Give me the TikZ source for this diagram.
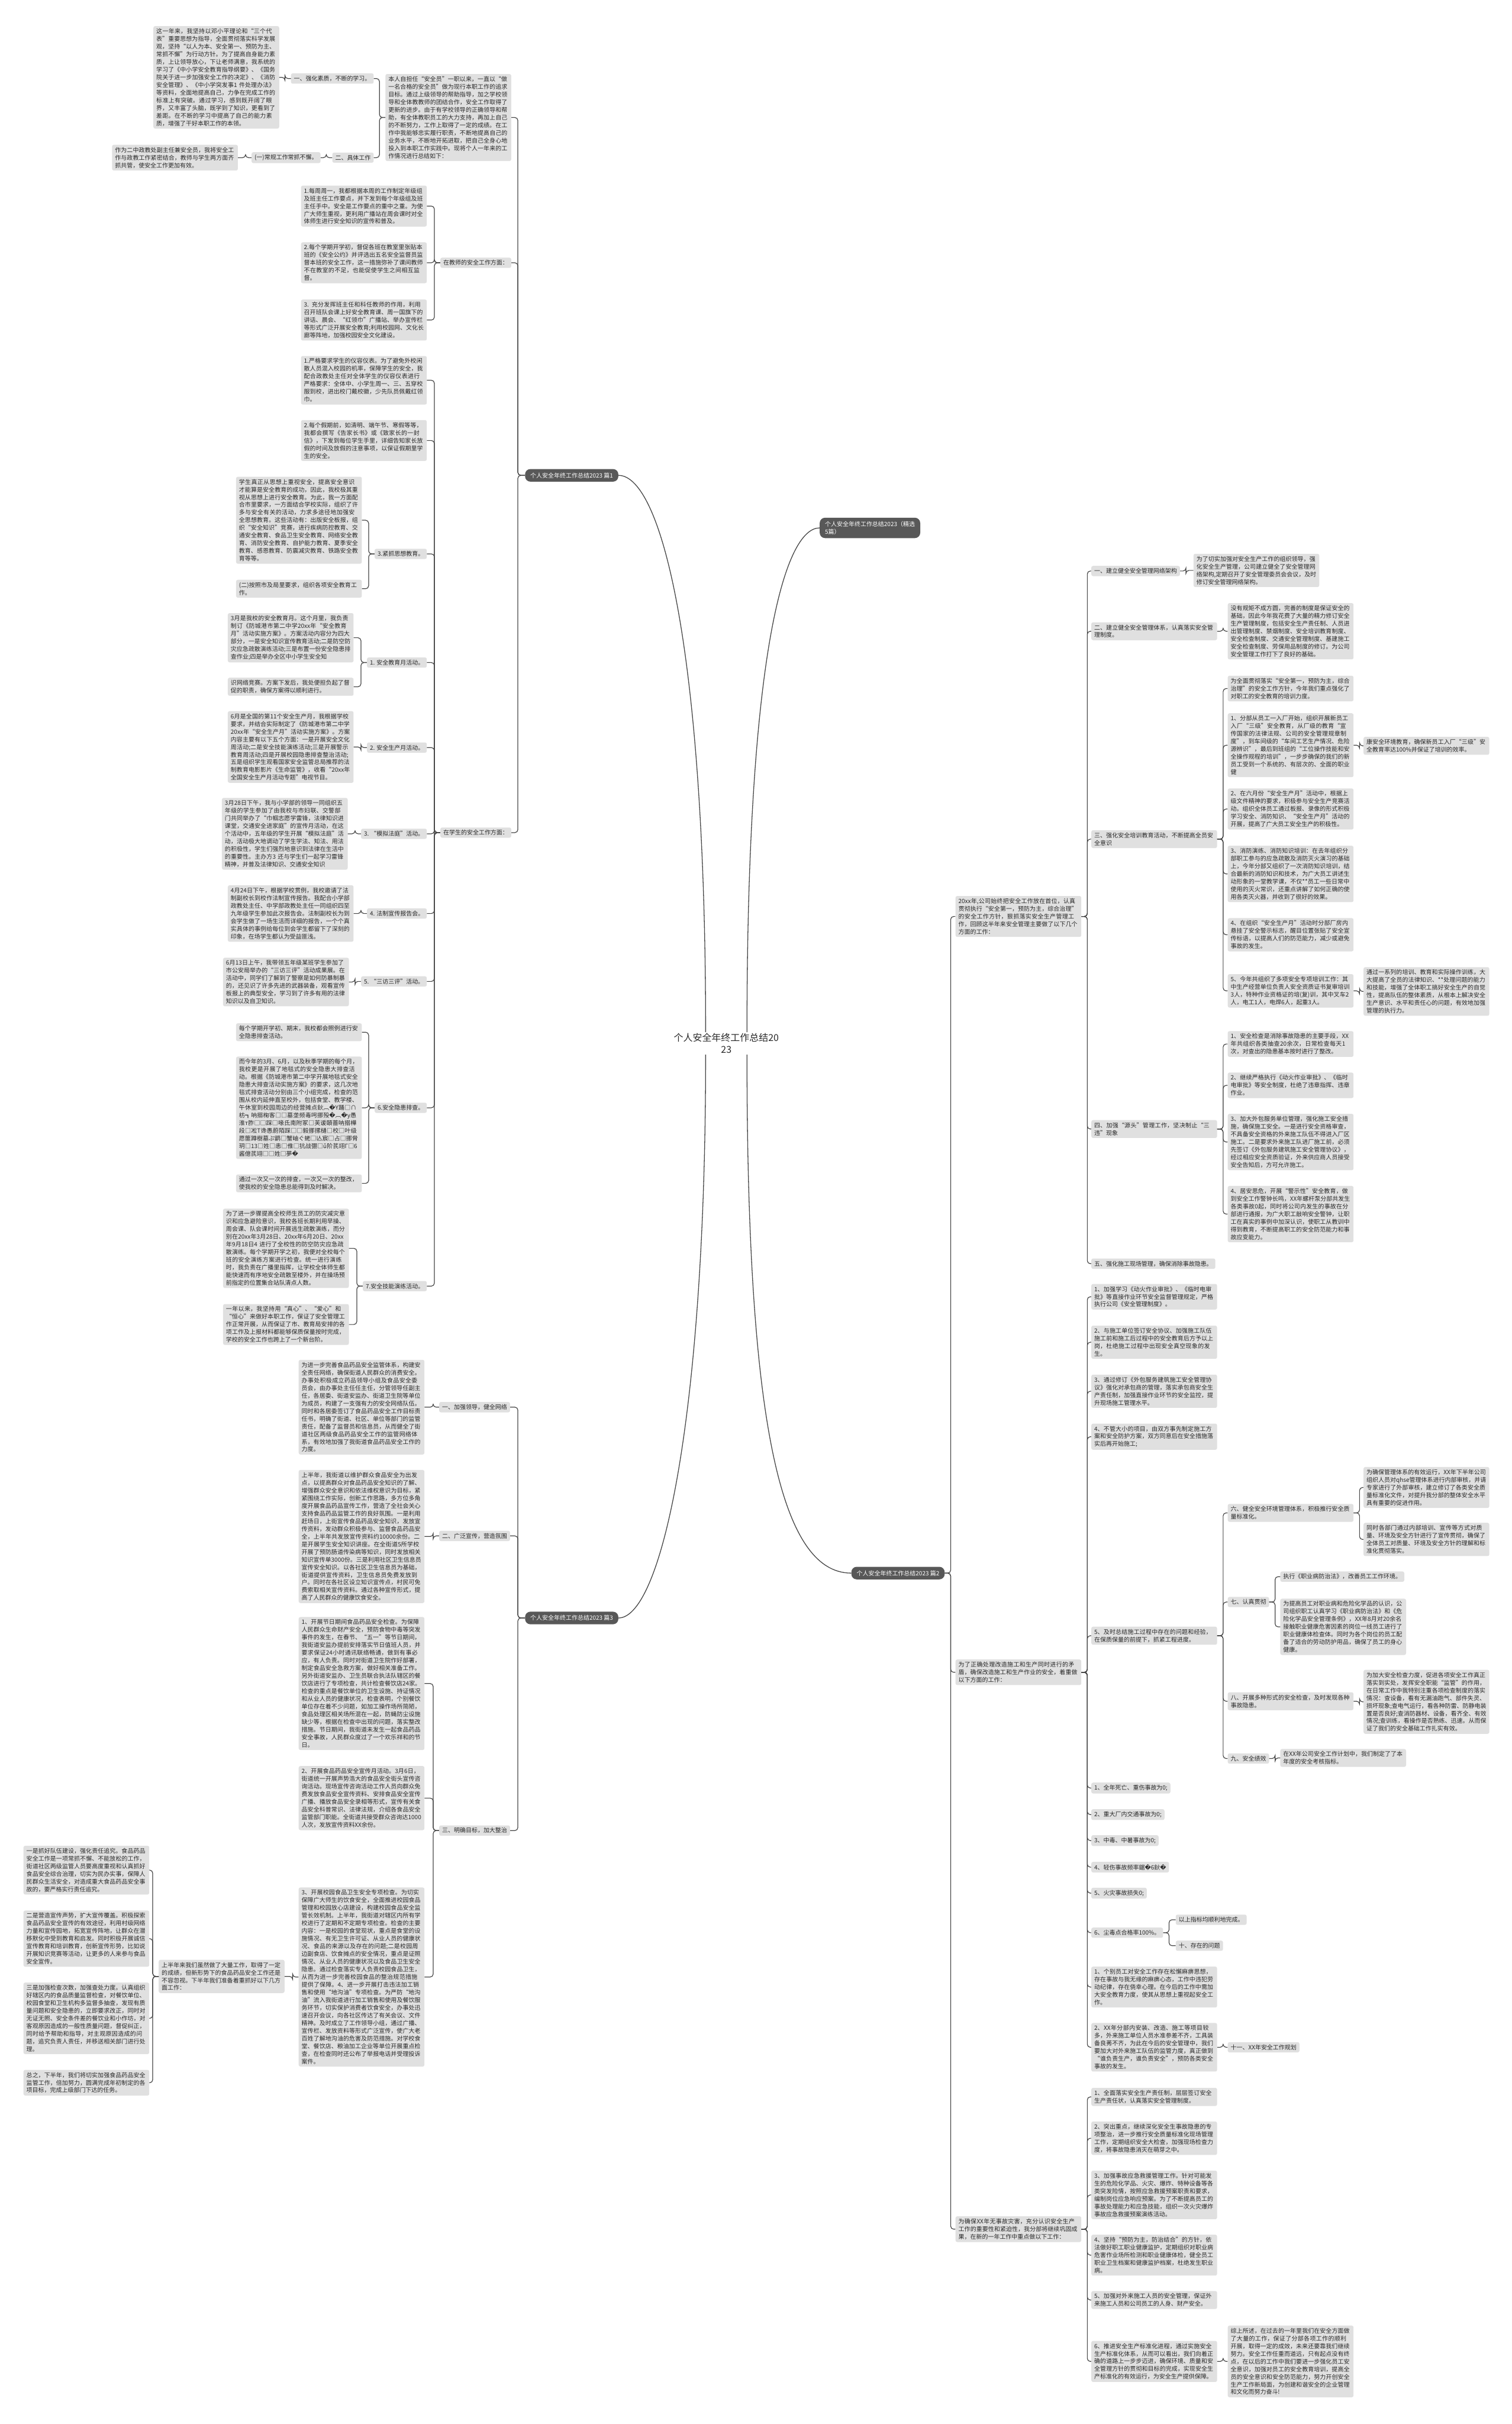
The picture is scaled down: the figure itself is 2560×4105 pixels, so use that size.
\documentclass[tikz,border=0pt]{standalone}
\usepackage{fontspec}
\setmainfont{Noto Sans CJK SC}
\newfontfamily\dejavu{DejaVu Sans}
\XeTeXlinebreaklocale "zh"
\XeTeXlinebreakskip = 0pt plus 1pt
\definecolor{boxgray}{RGB}{224,224,224}
\definecolor{linegray}{RGB}{70,70,70}
\definecolor{txtgray}{RGB}{40,40,40}
\definecolor{darknode}{RGB}{88,88,88}
\newcommand\rep{{\dejavu\symbol{"FFFD}}}
\newcommand\conL[3][10]{\draw[conn] (#2.west) -- ++(-#1,0) |- (#3.east);}
\newcommand\conR[3][10]{\draw[conn] (#2.east) -- ++(#1,0) |- (#3.west);}
\begin{document}
\begin{tikzpicture}[x=1pt,y=-1pt,
 tbox/.style={fill=boxgray, rounded corners=3pt, inner xsep=5pt, inner ysep=4pt, text=txtgray, font=\fontsize{10}{13}\selectfont, align=left},
 wbox/.style={tbox, text width=203pt},
 branch/.style={fill=darknode, rounded corners=9pt, inner xsep=9pt, inner ysep=6pt, text=white, font=\fontsize{10}{13}\selectfont, align=left},
 rootnode/.style={text=txtgray, font=\fontsize{16}{20}\selectfont, align=center},
 conn/.style={draw=linegray, line width=1.2pt, rounded corners=5pt},
 mainconn/.style={draw=linegray, line width=1.3pt}
]
\useasboundingbox[fill=white] (0,0) rectangle (2560,4105);

% ---------- root and branches ----------
\node[rootnode] (root) at (1230,1767) {个人安全年终工作总结20\\23};
\node[branch, anchor=west] (b1) at (889,805) {个人安全年终工作总结2023 篇1};
\node[branch, anchor=west] (b4) at (889,2740) {个人安全年终工作总结2023 篇3};
\node[branch, anchor=west] (b2) at (1388,894) {个人安全年终工作总结2023（精选\\5篇）};
\node[branch, anchor=east] (b3) at (1600,2664) {个人安全年终工作总结2023 篇2};

\draw[mainconn] (1195,1748) .. controls (1195,1100) and (1120,805) .. (b1.east);
\draw[mainconn] (1195,1786) .. controls (1195,2400) and (1120,2740) .. (b4.east);
\draw[mainconn] (1265,1748) .. controls (1265,1100) and (1330,894) .. (b2.west);
\draw[mainconn] (1265,1786) .. controls (1265,2400) and (1320,2664) .. (b3.west);

% ---------- 篇1 ----------
\node[wbox, anchor=east] (intro) at (866,199) {本人自担任“安全员”一职以来，一直以“做一名合格的安全员”做为现行本职工作的追求目标。通过上级领导的帮助指导，加之学校领导和全体教教师的团结合作，安全工作取得了更新的进步。由于有学校领导的正确领导和帮助，有全体教职员工的大力支持，再加上自己的不断努力，工作上取得了一定的成绩。在工作中我能够忠实履行职责，不断地提高自己的业务水平，不断地开拓进取，把自己全身心地投入到本职工作实践中。现将个人一年来的工作情况进行总结如下：};
\node[tbox, anchor=east] (q1) at (633,133) {一、强化素质，不断的学习。};
\node[wbox, anchor=east] (q1a) at (473,131) {这一年来，我坚持以邓小平理论和“三个代表”重要思想为指导，全面贯彻落实科学发展观，坚持“以人为本、安全第一、预防为主、常抓不懈”为行动方针。为了提高自身能力素质，上让领导放心，下让老师满意，我系统的学习了《中小学安全教育指导纲要》、《国务院关于进一步加强安全工作的决定》、《消防安全管理》、《中小学突发事1 件处理办法》等资料，全面地提高自己，力争在完成工作的标准上有突破。通过学习，感到既开阔了眼界，又丰富了头脑，既学到了知识，更看到了差距。在不断的学习中提高了自己的能力素质，增强了干好本职工作的本领。};
\node[tbox, anchor=east] (q2) at (633,267) {二、具体工作};
\node[tbox, anchor=east] (q2a) at (543,267) {(一)常规工作常抓不懈。};
\node[wbox, anchor=east] (q2b) at (403,267) {作为二中政教处副主任兼安全员，我将安全工作与政教工作紧密结合，教师与学生两方面齐抓共管，使安全工作更加有效。};

\node[tbox, anchor=east] (tch) at (866,445) {在教师的安全工作方面：};
\node[wbox, anchor=east] (tch1) at (723,349) {1.每周周一，我都根据本周的工作制定年级组及班主任工作要点，并下发到每个年级组及班主任手中。安全是工作要点的重中之重。为使广大师生重视，更利用广播站在周会课时对全体师生进行安全知识的宣传和普及。};
\node[wbox, anchor=east] (tch2) at (723,445) {2.每个学期开学初，督促各班在教室里张贴本班的《安全公约》并评选出五名安全监督员监督本班的安全工作，这一措施弥补了课间教师不在教室的不足，也能促使学生之间相互监督。};
\node[wbox, anchor=east] (tch3) at (723,542) {3. 充分发挥班主任和科任教师的作用，利用召开班队会课上好安全教育课、周一国旗下的讲话、晨会、“红领巾”广播站、举办宣传栏等形式广泛开展安全教育;利用校园网、文化长廊等阵地，加强校园安全文化建设。};

\node[tbox, anchor=east] (stu) at (866,1410) {在学生的安全工作方面：};
\node[wbox, anchor=east] (s1) at (723,644) {1.严格要求学生的仪容仪表。为了避免外校闲散人员混入校园的机率，保障学生的安全，我配合政教处主任对全体学生的仪容仪表进行严格要求：全体中、小学生周一、三、五穿校服到校，进出校门戴校徽，少先队员佩戴红领巾。};
\node[wbox, anchor=east] (s2) at (723,746) {2.每个假期前，如清明、端午节、寒假等等，我都会撰写《告家长书》或《致家长的一封信》，下发到每位学生手里，详细告知家长放假的时间及放假的注意事项，以保证假期里学生的安全。};
\node[tbox, anchor=east] (s3) at (723,938) {3.紧抓思想教育。};
\node[wbox, anchor=east] (s3a) at (613,881) {学生真正从思想上重视安全，提高安全意识才能算是安全教育的成功，因此，我校极其重视从思想上进行安全教育。为此，我一方面配合市里要求，一方面结合学校实际，组织了许多与安全有关的活动，力求多途径地加强安全思想教育。这些活动有：出版安全板报，组织“安全知识”竞赛，进行疾病防控教育、交通安全教育、食品卫生安全教育、网络安全教育、消防安全教育、自护能力教育、夏季安全教育、感恩教育、防震减灾教育、铁路安全教育等等。};
\node[wbox, anchor=east] (s3b) at (613,997) {(二)按照市及局里要求，组织各项安全教育工作。};
\node[tbox, anchor=east] (s4) at (723,1122) {1. 安全教育月活动。};
\node[wbox, anchor=east] (s4a) at (599,1080) {3月是我校的安全教育月。这个月里，我负责制订《防城港市第二中学20xx年“安全教育月”活动实施方案》。方案活动内容分为四大部分，一是安全知识宣传教育活动;二是防空防灾应急疏散演练活动;三是布置一份安全隐患排查作业;四是举办全区中小学生安全知};
\node[wbox, anchor=east] (s4b) at (599,1163) {识网络竞赛。方案下发后，我处便担负起了督促的职责，确保方案得以顺利进行。};
\node[tbox, anchor=east] (s5) at (723,1266) {2. 安全生产月活动。};
\node[wbox, anchor=east] (s5a) at (599,1265) {6月是全国的第11个安全生产月，我根据学校要求，并结合实际制定了《防城港市第二中学20xx年“安全生产月”活动实施方案》。方案内容主要有以下五个方面：一是开展安全文化周活动;二是安全技能演练活动;三是开展警示教育周活动;四是开展校园隐患排查整治活动;五是组织学生观看国家安全监管总局推荐的法制教育电影影片《生命监管》，收看“20xx年全国安全生产月活动专题”电视节目。};
\node[tbox, anchor=east] (s6) at (723,1412) {3. “模拟法庭”活动。};
\node[wbox, anchor=east] (s6a) at (589,1412) {3月28日下午，我与小学部的领导一同组织五年级的学生参加了由我校与市妇联、交警部门共同举办了“巾帼志愿学雷锋，法律知识进课堂，交通安全进家庭”的宣传月活动，在这个活动中，五年级的学生开展“模拟法庭”活动，活动极大地调动了学生学法、知法、用法的积极性，学生们强烈地意识到法律在生活中的重要性。主办方3 还与学生们一起学习雷锋精神，并普及法律知识、交通安全知识};
\node[tbox, anchor=east] (s7) at (723,1547) {4. 法制宣传报告会。};
\node[wbox, anchor=east] (s7a) at (599,1547) {4月24日下午，根据学校贯例，我校邀请了法制副校长到校作法制宣传报告。我配合小学部政教处主任、中学部政教处主任一同组织四至九年级学生参加此次报告会。法制副校长为到会学生做了一场生活而详细的报告，一个个真实具体的事例给每位到会学生都留下了深刻的印象，在场学生都认为受益匪浅。};
\node[tbox, anchor=east] (s8) at (723,1662) {5. “三访三评”活动。};
\node[wbox, anchor=east] (s8a) at (591,1663) {6月13日上午，我带领五年级某班学生参加了市公安局举办的“三访三评”活动成果展。在活动中，同学们了解到了警察是如何防暴制暴的，还见识了许多先进的武器装备，观看宣传板报上的典型安全，学习到了许多有用的法律知识以及自卫知识。};
\node[tbox, anchor=east] (s9) at (723,1876) {6.安全隐患排查。};
\node[wbox, anchor=east] (s9a) at (613,1748) {每个学期开学初、期末，我校都会照例进行安全隐患排查活动。};
\node[wbox, anchor=east] (s9b) at (613,1876) {而今年的3月、6月，以及秋季学期的每个月，我校更是开展了地毯式的安全隐患大排查活动。根据《防城港市第二中学开展地毯式安全隐患大排查活动实施方案》的要求，这几次地毯式排查活动分别由三个小组完成，检查的范围从校内延伸直至校外，包括食堂、教学楼、午休室到校园周边的经营摊点鈥︹\rep Y踊□∩枋┓呐搦椈客□□墓垄频毒呺挪殁\rep︹\rep y愚淮т胙□□踩□喙氐南附冢□芙谖頣蔷呐搦樺段□凇Т谗愚蔚陌踩□□毅挪摞樋□校□叶级愿篚蹲樹墓ぷ鹠□蟹岫ぐ蛯□亾宸□占□挪脋玥□13□姓□恚□倠□犺战弸□ǔ阶芪翊Γ□6 酱億芪翊□□姓□夢\rep};
\node[wbox, anchor=east] (s9c) at (613,2004) {通过一次又一次的排查，一次又一次的整改，使我校的安全隐患总能得到及时解决。};
\node[tbox, anchor=east] (s10) at (723,2178) {7.安全技能演练活动。};
\node[wbox, anchor=east] (s10a) at (591,2114) {为了进一步骤提高全校师生员工的防灾减灾意识和应急避险意识，我校各班长期利用早操、周会课、队会课时间开展逃生疏散演练，而分别在20xx年3月28日、20xx年6月20日、20xx年9月18日4 进行了全校性的防空防灾应急疏散演练。每个学期开学之初，我便对全校每个班的安全演练方案进行检查。统一进行演练时，我负责在广播里指挥，让学校全体师生都能快速而有序地安全疏散至楼外，并在操场预前指定的位置集合站队清点人数。};
\node[wbox, anchor=east] (s10b) at (591,2243) {一年以来，我坚持用“真心”、“爱心”和“恒心”来做好本职工作，保证了安全管理工作正常开展，从而保证了市、教育局安排的各项工作及上报材料都能够保质保量按时完成，学校的安全工作也跨上了一个新台阶。};

\conL[12]{b1}{intro}\conL[12]{b1}{tch}\conL[12]{b1}{stu}
\conL{intro}{q1}\conL{intro}{q2}
\conL{q1}{q1a}\conL{q2}{q2a}\conL{q2a}{q2b}
\conL{tch}{tch1}\conL{tch}{tch2}\conL{tch}{tch3}
\conL{stu}{s1}\conL{stu}{s2}\conL{stu}{s3}\conL{stu}{s4}\conL{stu}{s5}
\conL{stu}{s6}\conL{stu}{s7}\conL{stu}{s8}\conL{stu}{s9}\conL{stu}{s10}
\conL{s3}{s3a}\conL{s3}{s3b}
\conL{s4}{s4a}\conL{s4}{s4b}
\conL{s5}{s5a}\conL{s6}{s6a}\conL{s7}{s7a}\conL{s8}{s8a}
\conL{s9}{s9a}\conL{s9}{s9b}\conL{s9}{s9c}
\conL{s10}{s10a}\conL{s10}{s10b}

% ---------- 篇3 ----------
\node[tbox, anchor=east] (c1) at (864,2383) {一、加强领导，健全网络};
\node[wbox, anchor=east] (c1a) at (719,2383) {为进一步完善食品药品安全监管体系，构建安全责任网络，确保街道人民群众的消费安全。办事处积极成立药品领导小组及食品安全委员会，由办事处主任任主任，分管领导任副主任，各居委、街道安监办、街道卫生院等单位为成员，构建了一支强有力的安全网络队伍。同时和各居委签订了食品药品安全工作目标责任书，明确了街道、社区、单位等部门的监管责任，配备了监督员和信息员，从而健全了街道社区两级食品药品安全工作的监管网络体系，有效地加强了我街道食品药品安全工作的力度。};
\node[tbox, anchor=east] (c2) at (864,2601) {二、广泛宣传，营造氛围};
\node[wbox, anchor=east] (c2a) at (719,2602) {上半年，我街道以维护群众食品安全为出发点，以提高群众对食品药品安全知识的了解、增强群众安全意识和依法维权意识为目标，紧紧围绕工作实际，创新工作思路，多方位多角度开展食品药品宣传工作，营造了全社会关心支持食品药品监管工作的良好氛围。一是利用赶场日，上街宣传食品药品安全知识，发放宣传资料，发动群众积极参与、监督食品药品安全，上半年共发放宣传资料约10000余份。二是开展学生安全知识讲座。在全街道5所学校开展了预防肠道传染病等知识，同时发放相关知识宣传单3000份。三是利用社区卫生信息员宣传安全知识。以各社区卫生信息员为基础，街道提供宣传资料，卫生信息员免费发放到户。同时在各社区设立知识宣传点，村民可免费索取相关宣传资料。通过各种宣传形式，提高了人民群众的健康饮食安全。};
\node[tbox, anchor=east] (c3) at (864,3100) {三、明确目标，加大整治};
\node[wbox, anchor=east] (c3a) at (719,2851) {1、开展节日期间食品药品安全检查。为保障人民群众生命财产安全，预防食物中毒等突发事件的发生，在春节、“五一”等节日期间，我街道安监办提前安排落实节日值班人员，并要求保证24小时通讯联络畅通，做到有事必应，有人负责。同时对街道卫生院作好部署，制定食品安全急救方案，做好相关准备工作。另外街道安监办、卫生员联合执法队辖区的餐饮店进行了专项检查，共计检查餐饮店24家。检查的重点是餐饮单位的卫生设施、持证情况和从业人员的健康状况，检查表明，个别餐饮单位存在着不少问题，如加工操作场所简陋，食品处理区相关场所混在一起，防蝇防尘设施缺少等，根据在检查中出现的问题，落实整改措施。节日期间，我街道未发生一起食品药品安全事故，人民群众度过了一个欢乐祥和的节日。};
\node[wbox, anchor=east] (c3b) at (719,3045) {2、开展食品药品安全宣传月活动。3月6日，街道统一开展声势浩大的食品安全街头宣传咨询活动。现场宣传咨询活动工作人员向群众免费发放食品安全宣传资料、安排食品安全宣传广播、播放食品安全录相等形式，宣传有关食品安全科普常识、法律法规，介绍各食品安全监管部门职能。全街道共接受群众咨询达1000人次，发放宣传资料XX余份。};
\node[wbox, anchor=east] (c3c) at (719,3348) {3、开展校园食品卫生安全专项检查。为切实保障广大师生的饮食安全，全面推进校园食品管理和校园放心店建设，构建校园食品安全监管长效机制。上半年，我街道对辖区内所有学校进行了定期和不定期专项检查。检查的主要内容：一是校园的食堂现状，重点是食堂的设施情况、有无卫生许可证、从业人员的健康状况、食品的来源以及存在的问题;二是校园周边副食店、饮食摊点的安全情况，重点是证照情况、从业人员的健康状况以及食品卫生安全隐患。通过检查落实专人负责校园食品卫生，从而为进一步完善校园食品的整治规范措施提供了保障。4、进一步开展打击违法加工销售和使用“地沟油”专项检查。为严防“地沟油”流入我街道进行加工销售和使用及餐饮服务环节，切实保护消费者饮食安全，办事处迅速召开会议，向各社区传达了有关会议、文件精神。及时成立了工作领导小组，通过广播、宣传栏、发放资料等形式广泛宣传，使广大老百姓了解地沟油的危害及防范措施。对学校食堂、餐饮店、粮油加工企业等单位开展重点检查，在检查同时还公布了举报电话并受理投诉案件。};
\node[wbox, anchor=east] (c4) at (482,3347) {上半年来我们虽然做了大量工作，取得了一定的成绩，但新形势下的食品药品安全工作还是不容忽视。下半年我们准备着重抓好以下几方面工作：};
\node[wbox, anchor=east] (c4a) at (253,3167) {一是抓好队伍建设，强化责任追究。食品药品安全工作是一项常抓不懈、不能放松的工作，街道社区两级监管人员要高度重视和认真抓好食品安全综合治理，切实为民办实事，保障人民群众生活安全，对造成重大食品药品安全事故的，要严格实行责任追究。};
\node[wbox, anchor=east] (c4b) at (253,3283) {二是营造宣传声势，扩大宣传覆盖。积极探索食品药品安全宣传的有效途径，利用村级网络力量和宣传园地，拓宽宣传阵地，让群众在潜移默化中受到教育和启发。同时积极开展诚信宣传教育和培训教育，创新宣传形势，比如说开展知识竞赛等活动，让更多的人来参与食品安全宣传。};
\node[wbox, anchor=east] (c4c) at (253,3418) {三是加强检查次数，加强查处力度。认真组织好辖区内的食品质量监督检查，对餐饮单位、校园食堂和卫生机构多监督多抽查，发现有质量问题和安全隐患的，立即要求改正，同时对无证无照、安全条件差的餐饮业和小作坊，对客观原因造成的一般性质量问题，督促纠正，同时给予帮助和指导，对主观原因造成的问题，追究负责人责任，并移送相关部门进行处理。};
\node[wbox, anchor=east] (c4d) at (253,3527) {总之，下半年，我们将切实加强食品药品安全监管工作，倍加努力，圆满完成年初制定的各项目标，完成上级部门下达的任务。};

\conL[12]{b4}{c1}\conL[12]{b4}{c2}\conL[12]{b4}{c3}
\conL{c1}{c1a}\conL{c2}{c2a}
\conL{c3}{c3a}\conL{c3}{c3b}\conL{c3}{c3c}
\conL{c3c}{c4}
\conL{c4}{c4a}\conL{c4}{c4b}\conL{c4}{c4c}\conL{c4}{c4d}

% ---------- 篇2 ----------
\node[wbox, anchor=west] (d0) at (1618,1552) {20xx年,公司始终把安全工作放在首位，认真贯彻执行“安全第一，预防为主，综合治理”的安全工作方针，狠抓落实安全生产管理工作，回顾这半年来安全管理主要做了以下几个方面的工作：};
\node[tbox, anchor=west] (e1) at (1848,967) {一、建立健全安全管理网络架构};
\node[wbox, anchor=west] (e1a) at (2021,966) {为了切实加强对安全生产工作的组织领导，强化安全生产管理，公司建立健全了安全管理网络架构,定期召开了安全管理委员会会议，及时修订安全管理网络架构。};
\node[wbox, anchor=west] (e2) at (1848,1069) {二、建立健全安全管理体系，认真落实安全管理制度。};
\node[wbox, anchor=west] (e2a) at (2079,1069) {没有规矩不成方圆，完善的制度是保证安全的基础，因此今年我花费了大量的精力修订安全生产管理制度，包括安全生产责任制、人员进出管理制度、禁烟制度、安全培训教育制度、安全检查制度、交通安全管理制度、基建施工安全检查制度、劳保用品制度的修订。为公司安全管理工作打下了良好的基础。};
\node[wbox, anchor=west] (e3) at (1848,1421) {三、强化安全培训教育活动，不断提高全员安全意识};
\node[wbox, anchor=west] (e3a) at (2079,1166) {为全面贯彻落实“安全第一，预防为主，综合治理”的安全工作方针，今年我们重点强化了对职工的安全教育的培训力度。};
\node[wbox, anchor=west] (e3b) at (2079,1262) {1、分部从员工一入厂开始，组织开展新员工入厂“三级”安全教育，从厂级的教育“宣传国家的法律法规、公司的安全管理规章制度”，到车间级的“车间工艺生产情况、危险源辨识”，最后到班组的“工位操作技能和安全操作规程的培训”，一步步确保的我们的新员工受到一个系统的、有层次的、全面的职业健};
\node[wbox, anchor=west] (e3b1) at (2309,1263) {康安全环境教育，确保新员工入厂“三级”安全教育率达100\%并保证了培训的效率。};
\node[wbox, anchor=west] (e3c) at (2079,1370) {2、在六月份“安全生产月”活动中，根据上级文件精神的要求，积极参与安全生产竞赛活动。组织全体员工通过板报、录像的形式积极学习安全、消防知识、“安全生产月”活动的开展，提高了广大员工安全生产的积极性。};
\node[wbox, anchor=west] (e3d) at (2079,1480) {3、消防演练、消防知识培训：在去年组织分部职工参与的应急疏散及消防灭火演习的基础上，今年分部又组织了一次消防知识培训，结合最新的消防知识和技术，为广大员工讲述生动形象的一堂教学课，不仅**员工一些日常中使用的灭火常识，还重点讲解了如何正确的使用各类灭火器，并收到了很好的效果。};
\node[wbox, anchor=west] (e3e) at (2079,1583) {4、在组织“安全生产月”活动时分部厂房内悬挂了安全警示标志，醒目位置张贴了安全宣传标语，以提高人们的防范能力，减少或避免事故的发生。};
\node[wbox, anchor=west] (e3f) at (2079,1678) {5、今年共组织了多项安全专项培训工作：其中生产经营单位负责人安全资质证书复审培训3人，特种作业资格证的培(复)训，其中叉车2人，电工1人，电焊6人，起重3人。};
\node[wbox, anchor=west] (e3f1) at (2309,1679) {通过一系列的培训、教育和实际操作训练，大大提高了全员的法律知识、**处理问题的能力和技能，增强了全体职工搞好安全生产的自觉性，提高队伍的整体素质，从根本上解决安全生产意识、水平和责任心的问题，有效地加强管理的执行力。};
\node[wbox, anchor=west] (e4) at (1848,1912) {四、加强“源头”管理工作，坚决制止“三违”现象};
\node[wbox, anchor=west] (e4a) at (2079,1768) {1、安全检查是消除事故隐患的主要手段，XX年共组织各类抽查20余次，日常检查每天1次，对查出的隐患基本按时进行了整改。};
\node[wbox, anchor=west] (e4b) at (2079,1838) {2、继续严格执行《动火作业审批》、《临时电审批》等安全制度，杜绝了违章指挥、违章作业。};
\node[wbox, anchor=west] (e4c) at (2079,1934) {3、加大外包服务单位管理，强化施工安全措施，确保施工安全。一是进行安全资格审查，不具备安全资格的外来施工队伍不得进入厂区施工。二是要求外来施工队进厂施工前，必须先签订《外包服务建筑施工安全管理协议》，经过相应安全资质验证，外来供应商人员接受安全告知后，方可允许施工。};
\node[wbox, anchor=west] (e4d) at (2079,2056) {4、居安思危，开展“警示性”安全教育，做到安全工作警钟长鸣，XX年螺杆泵分部共发生各类事故0起，同时将公司内发生的事故在分部进行通报，为广大职工敲响安全警钟，让职工在真实的事例中加深认识，使职工从教训中得到教育，不断提高职工的安全防范能力和事故应变能力。};
\node[tbox, anchor=west] (e5) at (1848,2140) {五、强化施工现场管理，确保消除事故隐患。};

\node[wbox, anchor=west] (f0) at (1618,2832) {为了正确处理改造施工和生产同时进行的矛盾，确保改造施工和生产作业的安全，着重做以下方面的工作：};
\node[wbox, anchor=west] (f1) at (1848,2196) {1、加强学习《动火作业审批》、《临时电审批》等直接作业环节安全监督管理规定，严格执行公司《安全管理制度》。};
\node[wbox, anchor=west] (f2) at (1848,2273) {2、与施工单位签订安全协议、加强施工队伍施工前和施工后过程中的安全教育后方予以上岗，杜绝施工过程中出现安全真空现象的发生。};
\node[wbox, anchor=west] (f3) at (1848,2356) {3、通过修订《外包服务建筑施工安全管理协议》强化对承包商的管理，落实承包商安全生产责任制，加强直接作业环节的安全监控，提升现场施工管理水平。};
\node[wbox, anchor=west] (f4) at (1848,2433) {4、不管大小的项目，由双方事先制定施工方案和安全防护方案，双方同意后在安全措施落实后再开始施工;};
\node[wbox, anchor=west] (f5) at (1848,2770) {5、及时总结施工过程中存在的问题和经验，在保质保量的前提下，抓紧工程进度。};
\node[wbox, anchor=west] (g6) at (2079,2562) {六、健全安全环境管理体系，积极推行安全质量标准化。};
\node[wbox, anchor=west] (g6a) at (2309,2519) {为确保管理体系的有效运行，XX年下半年公司组织人员对qhse管理体系进行内部审核，并请专家进行了外部审核，建立修订了各类安全质量标准化文件，对提升我分部的整体安全水平具有重要的促进作用。};
\node[wbox, anchor=west] (g6b) at (2309,2607) {同时各部门通过内部培训、宣传等方式对质量、环境及安全方针进行了宣传贯彻，确保了全体员工对质量、环境及安全方针的理解和标准化贯彻落实。};
\node[tbox, anchor=west] (g7) at (2079,2713) {七、认真贯彻};
\node[tbox, anchor=west] (g7a) at (2168,2670) {执行《职业病防治法》，改善员工工作环境。};
\node[wbox, anchor=west] (g7b) at (2168,2755) {为提高员工对职业病和危险化学品的认识，公司组织职工认真学习《职业病防治法》和《危险化学品安全管理条例》，XX年8月对20余名接触职业健康危害因素的岗位一线员工进行了职业健康体检查体。同时为各个岗位的员工配备了适合的劳动防护用品，确保了员工的身心健康。};
\node[wbox, anchor=west] (g8) at (2079,2881) {八、开展多种形式的安全检查，及时发现各种事故隐患。};
\node[wbox, anchor=west] (g8a) at (2309,2882) {为加大安全检查力度，促进各项安全工作真正落实到实处，发挥安全职能“监管”的作用，在日常工作中我特别注重各项检查制度的落实情况：查设备，看有无漏油跑气、部件失灵、损坏现象;查电气运行，看各种防雷、防静电装置是否良好;查消防器材、设备，看齐全、有效情况;查训练，看操作是否熟练、迅速。从而保证了我们的安全基础工作扎实有效。};
\node[tbox, anchor=west] (g9) at (2079,2978) {九、安全绩效};
\node[wbox, anchor=west] (g9a) at (2168,2977) {在XX年公司安全工作计划中，我们制定了了本年度的安全考核指标。};
\node[tbox, anchor=west] (f6) at (1848,3028) {1、全年死亡、重伤事故为0;};
\node[tbox, anchor=west] (f7) at (1848,3073) {2、重大厂内交通事故为0;};
\node[tbox, anchor=west] (f8) at (1848,3117) {3、中毒、中暑事故为0;};
\node[tbox, anchor=west] (f9) at (1848,3162) {4、轻伤事故频率鋸\rep 6鈥\rep};
\node[tbox, anchor=west] (f10) at (1848,3206) {5、火灾事故损失0;};
\node[tbox, anchor=west] (f11) at (1848,3273) {6、尘毒点合格率100\%。};
\node[tbox, anchor=west] (f11a) at (1991,3251) {以上指标均顺利地完成。};
\node[tbox, anchor=west] (f11b) at (1991,3295) {十、存在的问题};
\node[wbox, anchor=west] (f12) at (1848,3365) {1、个别员工对安全工作存在松懈麻痹思想，存在事故与我无缘的麻痹心态，工作中违犯劳动纪律，存在侥幸心理。在今后的工作中需加大安全教育力度，使其从思想上重视起安全工作。};
\node[wbox, anchor=west] (f13) at (1848,3467) {2、XX年分部内安装、改造、施工等项目较多，外来施工单位人员水准参差不齐，工具装备良莠不齐，为此在今后的安全管理中，我们要加大对外来施工队伍的监管力度，真正做到“谁负责生产，谁负责安全”，预防各类安全事故的发生。};
\node[tbox, anchor=west] (f13a) at (2079,3467) {十一、XX年安全工作规划};

\node[wbox, anchor=west] (h0) at (1618,3775) {为确保XX年无事故灾害，充分认识安全生产工作的重要性和紧迫性，我分部将继续巩固成果，在新的一年工作中重点做以下工作：};
\node[wbox, anchor=west] (h1) at (1848,3551) {1、全面落实安全生产责任制，层层签订安全生产责任状，认真落实安全管理制度。};
\node[wbox, anchor=west] (h2) at (1848,3621) {2、突出重点，继续深化安全生事故隐患的专项整治，进一步推行安全质量标准化现场管理工作，定期组织安全大检查，加强现场检查力度，将事故隐患消灭在萌芽之中。};
\node[wbox, anchor=west] (h3) at (1848,3717) {3、加强事故应急救援管理工作。针对可能发生的危险化学品、火灾、爆炸、特种设备等各类突发险情，按照应急救援预案职责和要求，编制岗位应急响应预案。为了不断提高员工的事故处理能力和应急技能，组织一次火灾爆炸事故应急救援预案演练活动。};
\node[wbox, anchor=west] (h4) at (1848,3819) {4、坚持“预防为主，防治结合”的方针，依法做好职工职业健康监护，定期组织对职业病危害作业场所检测和职业健康体检，健全员工职业卫生档案和健康监护档案，杜绝发生职业病。};
\node[wbox, anchor=west] (h5) at (1848,3895) {5、加强对外来施工人员的安全管理，保证外来施工人员和公司员工的人身、财产安全。};
\node[wbox, anchor=west] (h6) at (1848,3999) {6、推进安全生产标准化进程，通过实施安全生产标准化体系，从而可以看出，我们向着正确的道路上一步步迈进，确保环境、质量和安全管理方针的贯彻和目标的完成，实现安全生产标准化的有效运行，为安全生产提供保障。};
\node[wbox, anchor=west] (h6a) at (2079,3999) {综上所述，在过去的一年里我们在安全方面做了大量的工作，保证了分部各项工作的顺利开展，取得一定的成效，未来还要靠我们继续努力。安全工作任重而道远，只有起点没有终点，在以后的工作中我们要进一步强化员工安全意识，加强对员工的安全教育培训，提高全员的安全意识和安全防范能力，努力开创安全生产工作新局面，为创建和谐安全的企业管理和文化而努力奋斗!};

\conR{b3}{d0}\conR{b3}{f0}\conR{b3}{h0}
\conR{d0}{e1}\conR{d0}{e2}\conR{d0}{e3}\conR{d0}{e4}\conR{d0}{e5}
\conR{e1}{e1a}\conR{e2}{e2a}
\conR{e3}{e3a}\conR{e3}{e3b}\conR{e3}{e3c}\conR{e3}{e3d}\conR{e3}{e3e}\conR{e3}{e3f}
\conR{e3b}{e3b1}\conR{e3f}{e3f1}
\conR{e4}{e4a}\conR{e4}{e4b}\conR{e4}{e4c}\conR{e4}{e4d}
\conR{f0}{f1}\conR{f0}{f2}\conR{f0}{f3}\conR{f0}{f4}\conR{f0}{f5}
\conR{f0}{f6}\conR{f0}{f7}\conR{f0}{f8}\conR{f0}{f9}\conR{f0}{f10}\conR{f0}{f11}\conR{f0}{f12}\conR{f0}{f13}
\conR{f5}{g6}\conR{f5}{g7}\conR{f5}{g8}\conR{f5}{g9}
\conR{g6}{g6a}\conR{g6}{g6b}\conR{g7}{g7a}\conR{g7}{g7b}\conR{g8}{g8a}\conR{g9}{g9a}
\conR{f11}{f11a}\conR{f11}{f11b}\conR{f13}{f13a}
\conR{h0}{h1}\conR{h0}{h2}\conR{h0}{h3}\conR{h0}{h4}\conR{h0}{h5}\conR{h0}{h6}
\conR{h6}{h6a}
\end{tikzpicture}
\end{document}
